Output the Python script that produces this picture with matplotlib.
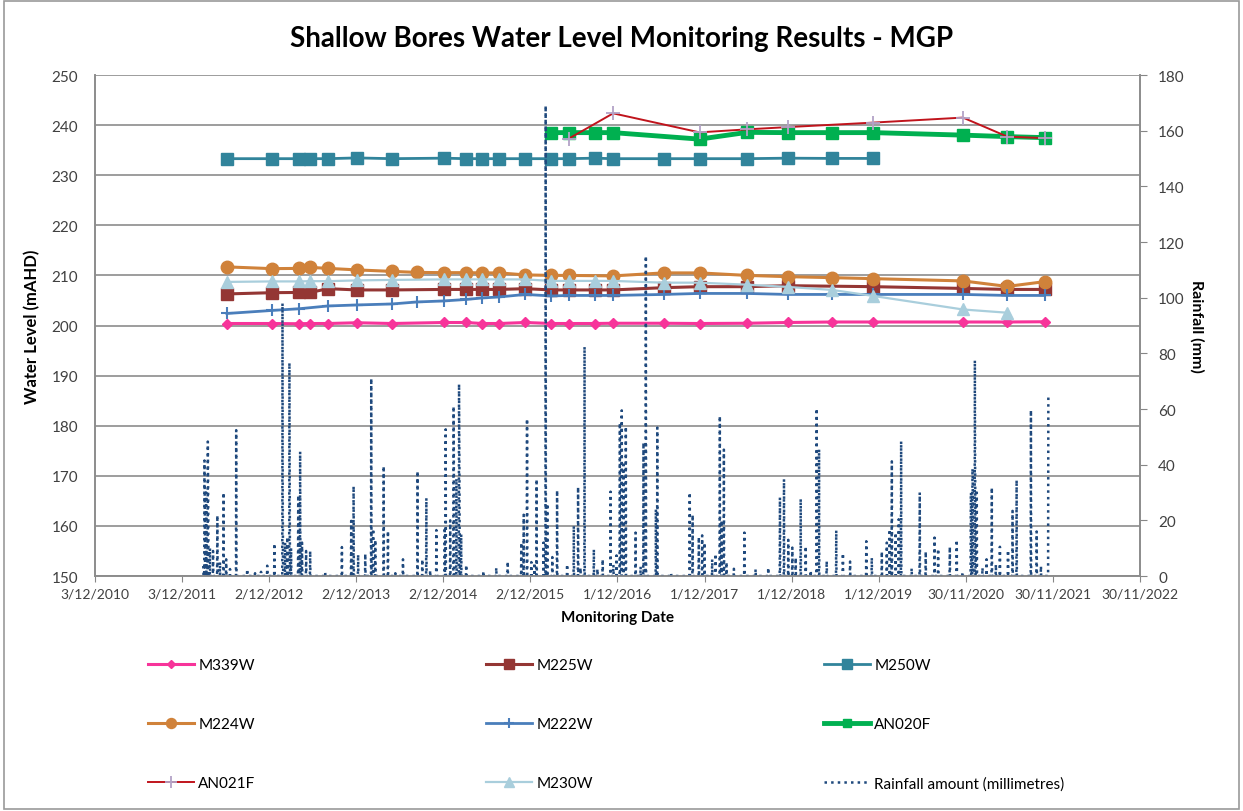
import matplotlib
matplotlib.use('Agg')
import matplotlib.pyplot as plt
import pandas as pd
from matplotlib.patches import Rectangle

plt.rcParams['font.family'] = ['Lato', 'DejaVu Sans']

# ---- water level data (mAHD) ----
m339w_dates = ['2012-06-08', '2012-12-13', '2013-04-08', '2013-05-23', '2013-08-06', '2013-12-05',
               '2014-05-01', '2014-12-03', '2015-03-08', '2015-05-14', '2015-07-24', '2015-11-11',
               '2016-02-28', '2016-05-11', '2016-08-28', '2016-11-13', '2017-06-12', '2017-11-10',
               '2018-05-28', '2018-11-14', '2019-05-20', '2019-11-08', '2020-11-18', '2021-05-23',
               '2021-10-26']
m339w_vals = [200.4, 200.4, 200.35, 200.4, 200.4, 200.55, 200.4, 200.6, 200.6, 200.4, 200.4, 200.6,
              200.4, 200.4, 200.4, 200.45, 200.45, 200.4, 200.45, 200.6, 200.7, 200.7, 200.7, 200.7,
              200.75]

m225w_dates = ['2012-06-08', '2012-12-13', '2013-04-08', '2013-05-23', '2013-08-06', '2013-12-05',
               '2014-05-01', '2014-12-03', '2015-03-08', '2015-05-14', '2015-07-24', '2015-11-11',
               '2016-02-28', '2016-05-11', '2016-08-28', '2016-11-13', '2017-06-12', '2017-11-10',
               '2018-05-28', '2018-11-14', '2019-11-08', '2020-11-18', '2021-05-23', '2021-10-26']
m225w_vals = [206.3, 206.55, 206.6, 206.6, 207.35, 207.1, 207.1, 207.2, 207.2, 207.2, 207.2, 207.35,
              207.1, 207.1, 207.1, 207.1, 207.55, 207.75, 207.75, 207.95, 207.75, 207.4, 207.2, 207.2]

m250w_dates = ['2012-06-08', '2012-12-13', '2013-04-08', '2013-05-23', '2013-08-06', '2013-12-05',
               '2014-05-01', '2014-12-03', '2015-03-08', '2015-05-14', '2015-07-24', '2015-11-11',
               '2016-02-28', '2016-05-11', '2016-08-28', '2016-11-13', '2017-06-12', '2017-11-10',
               '2018-05-28', '2018-11-14', '2019-05-20', '2019-11-08']
m250w_vals = [233.3, 233.3, 233.3, 233.3, 233.3, 233.45, 233.3, 233.4, 233.3, 233.3, 233.3, 233.3,
              233.3, 233.3, 233.4, 233.3, 233.3, 233.3, 233.3, 233.4, 233.35, 233.35]

m224w_dates = ['2012-06-08', '2012-12-13', '2013-04-08', '2013-05-23', '2013-08-06', '2013-12-05',
               '2014-05-01', '2014-08-14', '2014-12-03', '2015-03-08', '2015-05-14', '2015-07-24',
               '2015-11-11', '2016-02-28', '2016-05-11', '2016-11-13', '2017-06-12', '2017-11-10',
               '2018-05-28', '2018-11-14', '2019-05-20', '2019-11-08', '2020-11-18', '2021-05-23',
               '2021-10-26']
m224w_vals = [211.7, 211.35, 211.4, 211.6, 211.4, 211.1, 210.8, 210.6, 210.55, 210.55, 210.5, 210.5,
              210.1, 210.0, 210.0, 209.9, 210.5, 210.5, 210.0, 209.75, 209.55, 209.35, 208.9, 207.8,
              208.75]

m222w_dates = ['2012-06-08', '2012-12-13', '2013-04-08', '2013-08-06', '2013-12-05', '2014-05-01',
               '2014-08-14', '2014-12-03', '2015-03-08', '2015-05-14', '2015-07-24', '2015-11-11',
               '2016-02-28', '2016-05-11', '2016-08-28', '2016-11-13', '2017-06-12', '2017-11-10',
               '2018-05-28', '2018-11-14', '2019-05-20', '2019-11-08', '2020-11-18', '2021-05-23',
               '2021-10-26']
m222w_vals = [202.4, 203.0, 203.35, 203.9, 204.1, 204.3, 204.7, 204.9, 205.2, 205.5, 205.7, 206.2,
              205.9, 206.0, 206.0, 206.0, 206.2, 206.4, 206.4, 206.2, 206.2, 206.2, 206.2, 206.0,
              206.0]

an020f_dates = ['2016-02-28', '2016-05-11', '2016-08-28', '2016-11-13', '2017-11-10', '2018-05-28',
                '2018-11-14', '2019-05-20', '2019-11-08', '2020-11-18', '2021-05-23', '2021-10-26']
an020f_vals = [238.5, 238.5, 238.5, 238.5, 237.2, 238.55, 238.5, 238.5, 238.5, 238.0, 237.7, 237.5]

an021f_dates = ['2016-05-11', '2016-11-13', '2017-11-10', '2018-05-28', '2018-11-14', '2019-11-08',
                '2020-11-18', '2021-05-23', '2021-10-26']
an021f_vals = [237.3, 242.35, 238.55, 239.15, 239.6, 240.5, 241.5, 237.7, 237.4]

m230w_dates = ['2012-06-08', '2012-12-13', '2013-04-08', '2013-05-23', '2013-08-06', '2013-12-05',
               '2014-05-01', '2014-12-03', '2015-03-08', '2015-05-14', '2015-07-24', '2015-11-11',
               '2016-02-28', '2016-05-11', '2016-08-28', '2016-11-13', '2017-06-12', '2017-11-10',
               '2018-05-28', '2018-11-14', '2019-05-20', '2019-11-08', '2020-11-18', '2021-05-23']
m230w_vals = [208.7, 208.8, 208.8, 208.85, 208.85, 209.0, 209.1, 209.2, 209.2, 209.2, 209.2, 209.2,
              208.9, 208.9, 208.9, 208.9, 208.55, 208.55, 208.15, 207.7, 207.1, 205.9, 203.2, 202.55]

# ---- daily rainfall (mm), rain days ----
rain_dates = [
    '2012-03-01', '2012-03-06', '2012-03-07', '2012-03-08', '2012-03-13', '2012-03-20', '2012-03-21',
    '2012-03-22', '2012-03-29', '2012-04-11', '2012-04-29', '2012-05-10', '2012-05-25', '2012-06-05',
    '2012-06-21', '2012-07-17', '2012-09-01', '2012-10-04', '2012-10-29', '2012-11-24', '2012-12-24',
    '2013-01-27', '2013-01-28', '2013-01-29', '2013-02-07', '2013-02-16', '2013-02-25', '2013-02-26',
    '2013-02-27', '2013-03-04', '2013-04-03', '2013-04-11', '2013-04-19', '2013-05-06', '2013-05-23',
    '2013-07-25', '2013-10-03', '2013-11-11', '2013-11-21', '2013-12-10', '2014-01-09', '2014-02-03',
    '2014-02-11', '2014-02-20', '2014-03-27', '2014-04-14', '2014-05-15', '2014-06-16', '2014-08-16',
    '2014-09-05', '2014-09-22', '2014-10-08', '2014-11-03', '2014-12-08', '2014-12-12', '2014-12-31',
    '2015-01-14', '2015-01-15', '2015-01-26', '2015-02-06', '2015-02-07', '2015-02-08', '2015-02-15',
    '2015-03-08', '2015-05-19', '2015-07-12', '2015-08-29', '2015-10-25', '2015-11-04', '2015-11-18',
    '2015-12-06', '2015-12-19', '2015-12-28', '2016-01-26', '2016-02-04', '2016-02-11', '2016-03-03',
    '2016-03-23', '2016-05-04', '2016-06-01', '2016-06-19', '2016-06-29', '2016-07-16', '2016-08-24',
    '2016-09-08', '2016-09-30', '2016-11-02', '2016-11-14', '2016-11-27', '2016-12-11', '2016-12-19',
    '2016-12-26', '2017-01-05', '2017-02-15', '2017-03-08', '2017-03-20', '2017-03-30', '2017-05-11',
    '2017-05-17', '2017-07-14', '2017-09-30', '2017-10-12', '2017-11-07', '2017-11-21', '2017-12-01',
    '2018-01-02', '2018-01-16', '2018-02-03', '2018-02-10', '2018-02-20', '2018-03-03', '2018-04-03',
    '2018-05-17', '2018-07-03', '2018-08-25', '2018-10-13', '2018-10-30', '2018-11-17', '2018-12-04',
    '2018-12-18', '2019-01-08', '2019-01-29', '2019-02-19', '2019-03-16', '2019-03-26', '2019-04-27',
    '2019-06-06', '2019-07-04', '2019-08-03', '2019-10-10', '2019-11-02', '2019-12-14', '2020-01-04',
    '2020-01-16', '2020-01-25', '2020-02-10', '2020-02-23', '2020-03-04', '2020-04-17', '2020-05-21',
    '2020-06-15', '2020-07-22', '2020-08-06', '2020-09-24', '2020-10-23', '2020-11-16', '2020-12-21',
    '2020-12-22', '2020-12-28', '2020-12-29', '2021-01-07', '2021-01-08', '2021-01-09', '2021-01-15',
    '2021-02-08', '2021-02-25', '2021-03-19', '2021-04-05', '2021-04-22', '2021-05-26', '2021-06-14',
    '2021-07-01', '2021-08-30', '2021-09-23', '2021-10-11', '2021-11-11']
rain_mm = [
    3.6, 41.5, 25, 15, 30, 48.3, 35, 20, 10, 9, 21.8, 5, 30, 6,
    2.5, 52.4, 2.5, 1, 1.5, 3.7, 11.7,
    98, 30, 8, 12, 14, 76.6, 40,
    12, 10, 29, 44.7, 12, 9, 9,
    1.2, 10.4, 19.8, 32.3, 7.7, 8, 71,
    17, 13, 39.5, 16.2, 1, 6, 37.7,
    6, 28, 2, 16.5, 17.5, 52.7, 20,
    61, 45, 35, 69, 50, 30, 15,
    4, 1.8, 3, 5.2, 12, 22, 56.5,
    5, 4.8, 34.8, 12, 169, 26, 6.8,
    30.8, 4.2, 18, 32, 3, 82.4, 9.6,
    2.6, 6, 30.3, 4, 7.4, 55, 59.5,
    40, 53.7, 15.6, 3.4, 47.9, 115, 24,
    53.3, 1, 30, 22, 14, 14.6, 12,
    6, 8, 57.5, 20, 45.4, 5, 2.6,
    15.6, 2.5, 3, 28.2, 34.8, 13, 10.2,
    6.6, 27.7, 10.7, 2, 60.2, 45.5, 5.4,
    16.4, 8.2, 5.2, 12.5, 6.6, 8.8, 12,
    16.8, 41.2, 15.6, 20.4, 48.4, 2.8, 30,
    8.8, 13.8, 9.8, 10.5, 13, 1.4, 28,
    30, 38.6, 36, 77.5, 40, 25, 30,
    3, 6, 31.8, 4.2, 10.5, 9.3, 23.4,
    34.5, 59.6, 16, 3.6, 64.6]

series = [
    ('M339W', m339w_dates, m339w_vals, dict(color='#F7349A', marker='D', ms=5, lw=2.2)),
    ('M225W', m225w_dates, m225w_vals, dict(color='#943634', marker='s', ms=9, lw=2.2)),
    ('M250W', m250w_dates, m250w_vals, dict(color='#31849B', marker='s', ms=8.5, lw=2.0)),
    ('M224W', m224w_dates, m224w_vals, dict(color='#D0823A', marker='o', ms=9, lw=2.2)),
    ('M222W', m222w_dates, m222w_vals, dict(color='#4A7EBB', marker='+', ms=9, mew=1.5, lw=2.0)),
    ('AN020F', an020f_dates, an020f_vals, dict(color='#00B050', marker='s', ms=8, lw=3.5)),
    ('AN021F', an021f_dates, an021f_vals, dict(color='#C0141C', marker='+', ms=10, mew=1.3,
                                              mec='#B3A2C7', lw=1.4)),
    ('M230W', m230w_dates, m230w_vals, dict(color='#A9CEDC', marker='^', ms=9, lw=1.6)),
]

fig = plt.figure(figsize=(12.43, 8.12), dpi=100)
ax = fig.add_axes([0.0764, 0.2894, 0.8407, 0.6170])
ax2 = ax.twinx()

handles = {}
for name, dates, vals, style in series:
    line, = ax.plot(pd.to_datetime(dates), vals, label=name, zorder=3, **style)
    handles[name] = line

rain = pd.Series(rain_mm, index=pd.to_datetime(rain_dates)).groupby(level=0).max()
days = pd.date_range(rain.index.min(), rain.index.max(), freq='D')
rain_daily = rain.reindex(days, fill_value=0.0)
rain_line, = ax2.plot(rain_daily.index, rain_daily.values, linestyle=':', lw=1.8,
                      color='#1F497D', label='Rainfall amount (millimetres)')

# axes ranges and ticks
start = pd.Timestamp('2010-12-03')
ticks = pd.date_range(start, periods=13, freq='365D')
ax.set_xlim(ticks[0], ticks[-1])
ax.set_xticks(ticks)
ax.set_xticklabels([f'{t.day}/{t.month}/{t.year}' for t in ticks], fontsize=10, color='#404040')
ax.set_ylim(150, 250)
ax.set_yticks(range(150, 251, 10))
ax2.set_ylim(0, 180)
ax2.set_yticks(range(0, 181, 20))
ax.tick_params(axis='y', length=0, labelsize=11, colors='#404040', pad=12)
ax.tick_params(axis='x', length=4, color='#868686', pad=4)
ax2.tick_params(axis='y', length=5, labelsize=11, colors='#404040', pad=8)
ax2.tick_params(axis='y', color='#868686')

ax.grid(axis='y', color='#8C8C8C', lw=1.2)
ax.set_axisbelow(True)
for a in (ax, ax2):
    for side, sp in a.spines.items():
        sp.set_color('#8C8C8C')
        sp.set_linewidth(1.2)
    a.spines['top'].set_visible(False)

ax.set_ylabel('Water Level (mAHD)', fontsize=12, fontweight='bold', labelpad=8)
ax.set_xlabel('Monitoring Date', fontsize=11, fontweight='bold', labelpad=8)
ax2.set_ylabel('Rainfall (mm)', fontsize=11.5, fontweight='bold', rotation=270, labelpad=14)
fig.suptitle('Shallow Bores Water Level Monitoring Results - MGP', fontsize=20,
             fontweight='bold', y=0.968)

# legend: three rows, three columns (column-major order)
order = ['M339W', 'M224W', 'AN021F', 'M225W', 'M222W', 'M230W', 'M250W', 'AN020F']
leg_handles = [handles[n] for n in order] + [rain_line]
leg_labels = order + ['Rainfall amount (millimetres)']
fig.legend(leg_handles, leg_labels, ncol=3, loc='upper left', bbox_to_anchor=(0.108, 0.205),
           frameon=False, fontsize=11, handlelength=3.0, handletextpad=0.3,
           columnspacing=15.1, labelspacing=2.95, markerscale=0.8)

fig.add_artist(Rectangle((0.003, 0.002), 0.994, 0.996, transform=fig.transFigure,
                         fill=False, edgecolor='#9A9A9A', lw=1.2))

fig.savefig('out.png', dpi=100)
